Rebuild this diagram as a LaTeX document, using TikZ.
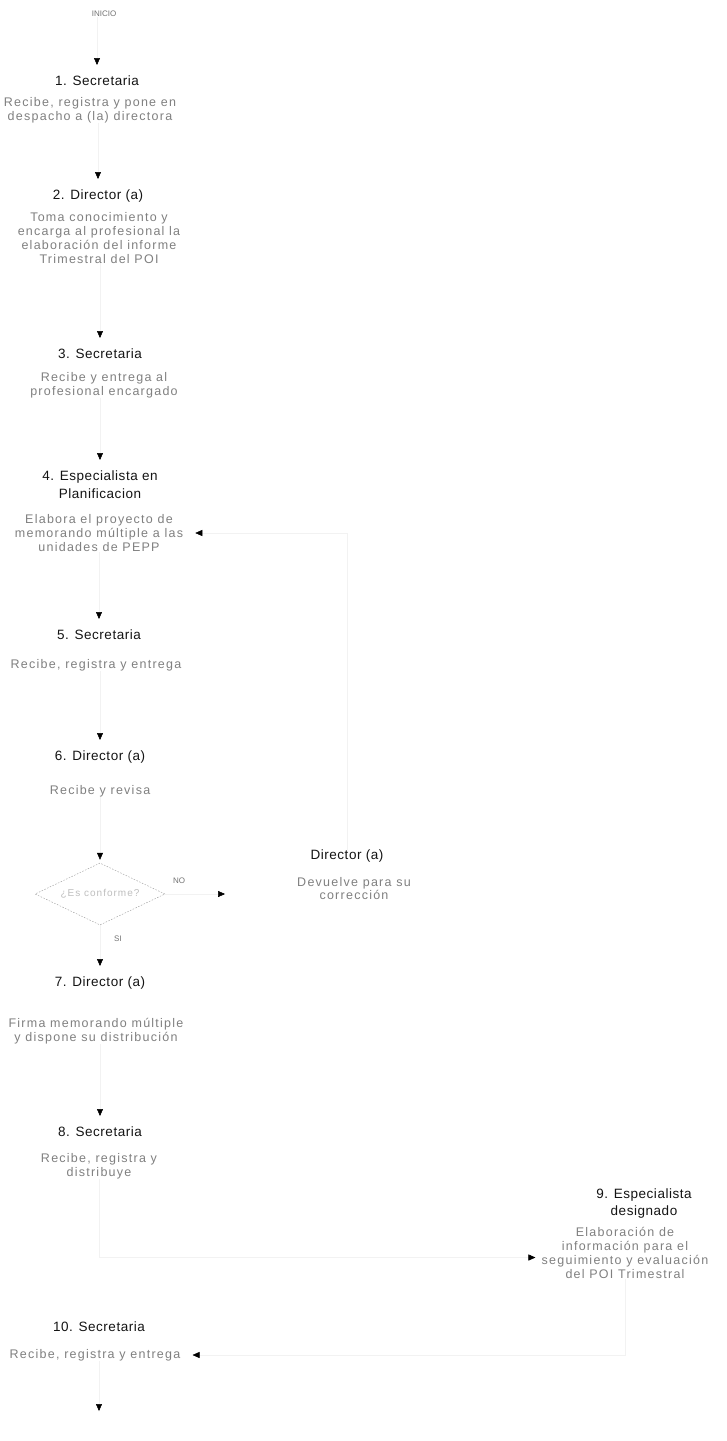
\documentclass[tikz,border=0pt]{standalone}
\usepackage{fontspec}
\setmainfont{Liberation Sans}
\newfontfamily\hdrfont[LetterSpace=4]{Liberation Sans}
\newfontfamily\bdyfont[LetterSpace=10]{Liberation Sans}
\usetikzlibrary{arrows.meta,shapes.geometric}
\begin{document}
\begin{tikzpicture}[x=1pt,y=-1pt,
  hdr/.style={font=\hdrfont\fontsize{13.5}{17}\selectfont, text=black!92, inner sep=0pt, anchor=north, align=center},
  bdy/.style={font=\bdyfont\fontsize{12.5}{13.8}\selectfont, text=black!50, inner sep=0pt, align=center},
  small/.style={font=\fontsize{8}{9}\selectfont, text=black!55, inner sep=0pt},
  conn/.style={draw=black!5, line width=0.5pt, -{Triangle[length=7pt,width=6pt,color=black]}, shorten >=11pt},
  decision/.style={shape=diamond, draw=black!40, dash pattern=on 1.5pt off 1.5pt, minimum width=130pt, minimum height=62pt, inner sep=0pt, aspect=2, font=\bdyfont\fontsize{10}{12}\selectfont, text=black!25}
]
\fill[white] (0,0) rectangle (726,1441);
\useasboundingbox (0,0) rectangle (726,1441);

\node[small] (ini) at (104,14) {INICIO};

\node[hdr] (h1) at (97,76) {1. Secretaria};
\node[bdy] (b1) at (90,110) {Recibe, registra y pone en\\despacho a (la) directora};

\node[hdr] (h2) at (98,190) {2. Director (a)};
\node[bdy] (b2) at (99,238) {Toma conocimiento y\\encarga al profesional la\\elaboración del informe\\Trimestral del POI};

\node[hdr] (h3) at (100,349) {3. Secretaria};
\node[bdy] (b3) at (104,385) {Recibe y entrega al\\profesional encargado};

\node[hdr] (h4) at (100,471) {4. Especialista en\\[1pt]Planificacion};
\node[bdy] (b4) at (99,533) {Elabora el proyecto de\\memorando múltiple a las\\unidades de PEPP};

\node[hdr] (h5) at (99,630) {5. Secretaria};
\node[bdy] (b5) at (96,665) {Recibe, registra y entrega};

\node[hdr] (h6) at (100,751) {6. Director (a)};
\node[bdy] (b6) at (100,791) {Recibe y revisa};

\node[decision] (d) at (100,894) {¿Es conforme?};
\node[small] (no) at (179,881) {NO};
\node[small] (si) at (118,939) {SI};

\node[hdr] (rh) at (347,850) {Director (a)};
\node[bdy] (rb) at (354,888.5) {Devuelve para su\\corrección};

\node[hdr] (h7) at (100,977) {7. Director (a)};
\node[bdy] (b7) at (96,1031) {Firma memorando múltiple\\y dispone su distribución};

\node[hdr] (h8) at (100,1127) {8. Secretaria};
\node[bdy] (b8) at (99,1166) {Recibe, registra y\\distribuye};

\node[hdr] (h9) at (644,1189) {9. Especialista\\designado};
\node[bdy] (b9) at (625,1253) {Elaboración de\\información para el\\seguimiento y evaluación\\del POI Trimestral};

\node[hdr] (h10) at (99,1321) {10. Secretaria};
\node[bdy] (b10) at (95,1355) {Recibe, registra y entrega};

\coordinate (fin) at (99,1411);

\draw[conn] (h1 |- ini.south) -- (h1);
\draw[conn] (h2 |- b1.south) -- (h2);
\draw[conn] (h3 |- b2.south) -- (h3);
\draw[conn] (h4 |- b3.south) -- (h4);
\draw[conn] (h5 |- b4.south) -- (h5);
\draw[conn] (h6 |- b5.south) -- (h6);
\draw[conn, shorten >=3pt] (d |- b6.south) -- (d);
\draw[conn, shorten >=72pt] (d.east) -- (d.east -| rb.west);
\draw[conn, shorten >=12pt] (rh.north) |- (b4.east);
\draw[conn] (d.south) -- (h7);
\draw[conn] (h8 |- b7.south) -- (h8);
\draw[conn, shorten >=6pt] (b8.south) |- ([yshift=-4.5pt]b9.west);
\draw[conn, shorten >=12pt] (b9.south) |- (b10.east);
\draw[conn, shorten >=0pt] (fin |- b10.south) -- (fin);
\end{tikzpicture}
\end{document}
